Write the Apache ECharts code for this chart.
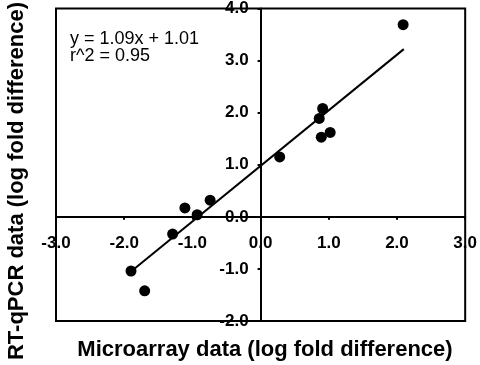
<!DOCTYPE html>
<html>
<head>
<meta charset="utf-8">
<script src="https://cdn.jsdelivr.net/npm/echarts@6/dist/echarts.min.js"></script>
<style>
  html, body { margin: 0; padding: 0; background: #fff; }
  #chart { width: 480px; height: 365px; }
</style>
</head>
<body>
<div id="chart"></div>
<script>
  // microarray (x) vs RT-qPCR (y), log fold difference
  var microX = [2.09, 0.91, 0.86, 1.02, 0.89, 0.28, -0.74, -1.11, -0.93, -1.29, -1.90, -1.70];
  var qpcrY = [3.69, 2.08, 1.89, 1.62, 1.53, 1.15, 0.32, 0.17, 0.04, -0.33, -1.04, -1.42];
  // fitted line end points
  var fitX = [-1.90, 2.10];
  var fitY = [-1.05, 3.22];
  var eqText = ['y = 1.09x + 1.01', 'r^2 = 0.95'];

  var font = '"Liberation Sans", Arial, Helvetica, sans-serif';

  var points = microX.map(function (x, i) { return [x, qpcrY[i]]; });
  var fit = fitX.map(function (x, i) { return [x, fitY[i]]; });

  var gridLeft = 56, gridBottom = 44;

  var myChart = echarts.init(document.getElementById('chart'));
  var option = {
    backgroundColor: '#fff',
    animation: false,
    grid: {
      left: gridLeft,
      right: 12,
      top: 8,
      bottom: gridBottom,
      show: true,
      borderColor: '#000',
      borderWidth: 2,
      backgroundColor: 'transparent'
    },
    xAxis: {
      type: 'value',
      position: 'bottom',
      min: -3,
      max: 3,
      interval: 1,
      axisLine: { onZero: false, lineStyle: { color: '#000', width: 2 } },
      axisTick: { show: true, length: 3, lineStyle: { color: '#000', width: 2 } },
      axisLabel: {
        margin: 18,
        color: '#000',
        fontFamily: font,
        fontWeight: 'bold',
        fontSize: 17,
        showMinLabel: true,
        showMaxLabel: true,
        formatter: function (v) { return v.toFixed(1); }
      },
      splitLine: { show: false }
    },
    yAxis: {
      type: 'value',
      position: 'left',
      min: -2,
      max: 4,
      interval: 1,
      axisLine: { onZero: false, lineStyle: { color: '#000', width: 2 } },
      axisTick: { show: true, length: 3, lineStyle: { color: '#000', width: 2 } },
      axisLabel: {
        margin: 12,
        color: '#000',
        fontFamily: font,
        fontWeight: 'bold',
        fontSize: 17,
        showMinLabel: true,
        showMaxLabel: true,
        formatter: function (v) { return v.toFixed(1); }
      },
      splitLine: { show: false }
    },
    graphic: [
      {
        type: 'text', left: 70, top: 30,
        style: { text: eqText[0], font: '18px ' + font, fill: '#000' }
      },
      {
        type: 'text', left: 70, top: 47,
        style: { text: eqText[1], font: '18px ' + font, fill: '#000' }
      },
      {
        type: 'text', x: 265, y: 350,
        style: {
          text: 'Microarray data (log fold difference)',
          font: 'bold 22px ' + font, fill: '#000',
          align: 'center', verticalAlign: 'middle'
        }
      },
      {
        type: 'text', x: 17, y: 181, rotation: Math.PI / 2,
        style: {
          text: 'RT-qPCR data (log fold difference)',
          font: 'bold 22px ' + font, fill: '#000',
          align: 'center', verticalAlign: 'middle'
        }
      }
    ],
    series: [
      {
        type: 'line',
        data: fit,
        symbol: 'none',
        lineStyle: { color: '#000', width: 2 },
        z: 2
      },
      {
        type: 'scatter',
        data: points,
        symbolSize: 11,
        itemStyle: { color: '#000', opacity: 1 },
        z: 3
      }
    ]
  };
  myChart.setOption(option);

  // move both axes (line, ticks, labels) to cross at the origin
  var origin = myChart.convertToPixel({ gridIndex: 0 }, [0, 0]);
  var h = myChart.getHeight();
  myChart.setOption({
    xAxis: { offset: -((h - gridBottom) - origin[1]) },
    yAxis: { offset: -(origin[0] - gridLeft) }
  });
</script>
</body>
</html>
